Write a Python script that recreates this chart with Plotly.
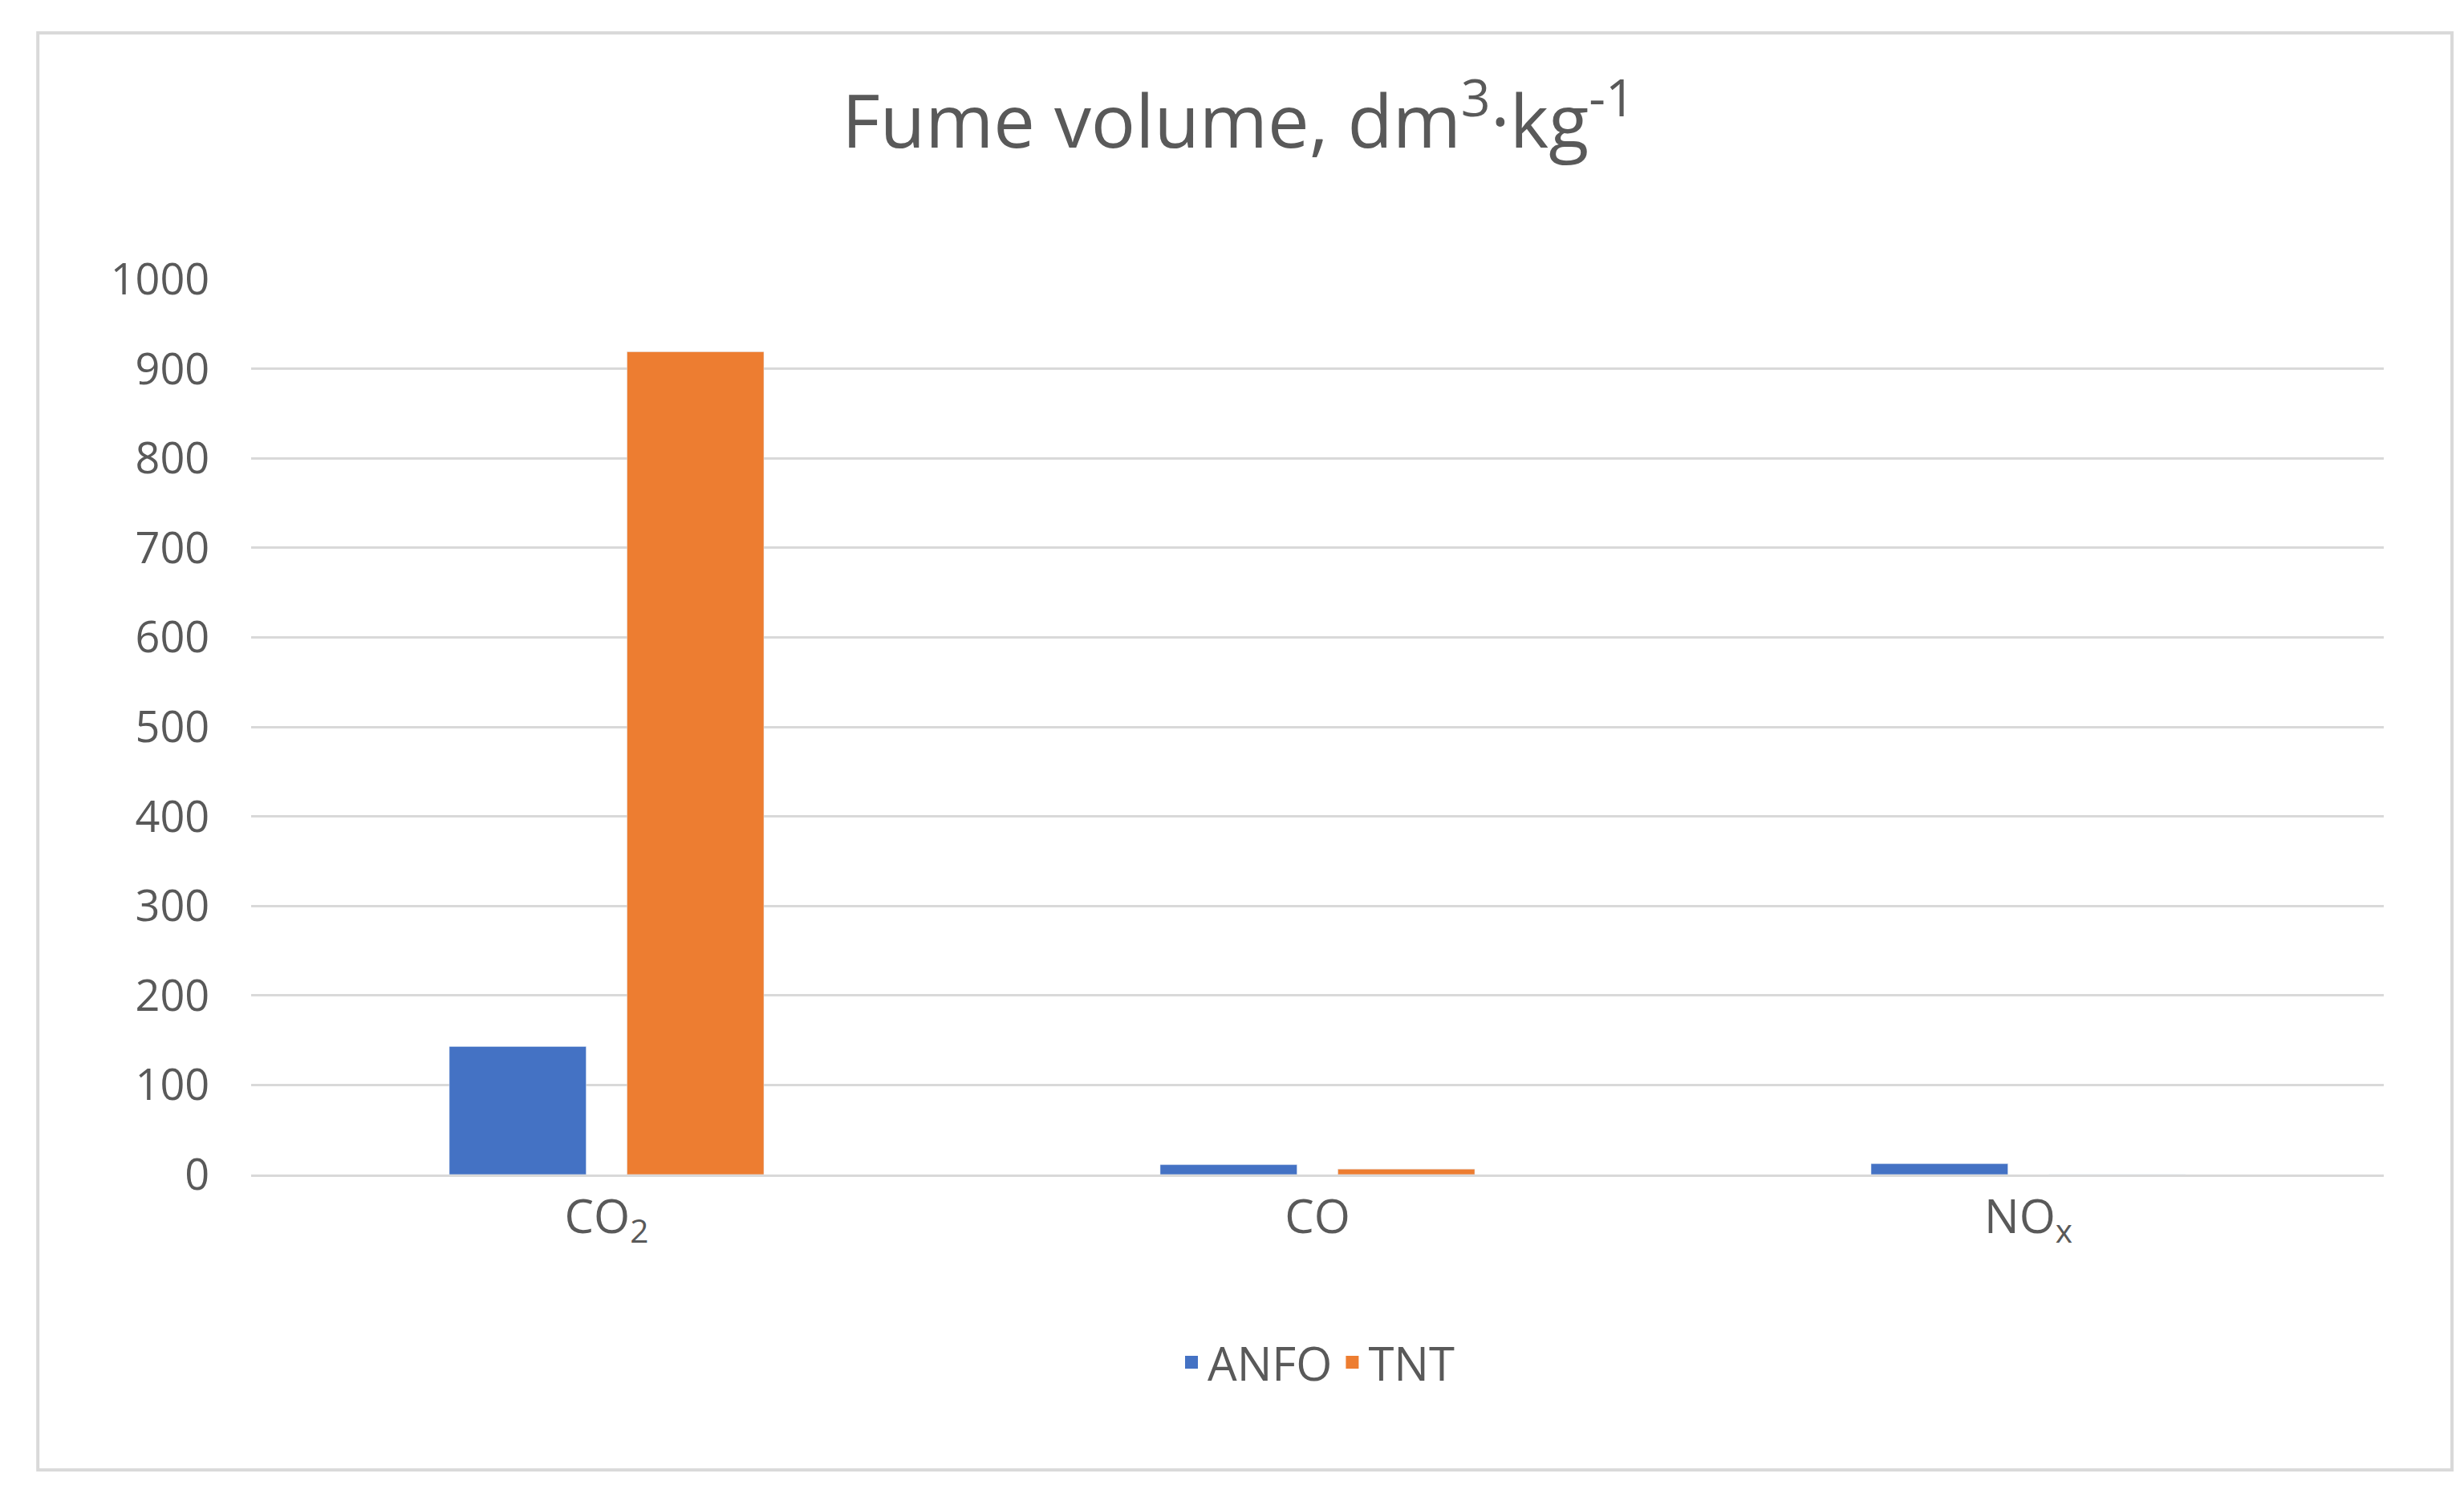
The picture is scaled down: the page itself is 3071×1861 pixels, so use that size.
import plotly.graph_objects as go

categories = ["CO<sub>2</sub>", "CO", "NO<sub>x</sub>"]
anfo = [143, 11, 12]
tnt = [919, 6, 0]
series = ["ANFO", "TNT"]
colors = ["#4472C4", "#ED7D31"]

W, H = 3071, 1861
fig = go.Figure()
for name, vals, c in zip(series, [anfo, tnt], colors):
    fig.add_bar(name=name, x=categories, y=vals, marker_color=c, showlegend=False)
for name, c in zip(series, colors):
    fig.add_scatter(name=name, x=[None], y=[None], mode="markers",
                    marker=dict(symbol="square", size=38, color=c))
fig.update_layout(
    width=W, height=H, plot_bgcolor="white", paper_bgcolor="white",
    font=dict(family="Open Sans", color="#595959", size=54),
    title=dict(text="Fume volume, dm<sup>3</sup>·kg<sup>-1</sup>", x=0.5, xanchor="center",
               y=0.94, yanchor="top", font=dict(size=92, color="#595959")),
    margin=dict(l=305, r=108, t=340, b=405),
    barmode="group", bargap=0.5, bargroupgap=0.23,
    legend=dict(orientation="h", x=0.5, xanchor="center", y=-0.17, yanchor="top",
                font=dict(size=58), itemwidth=30),
    xaxis=dict(showline=True, linecolor="#D9D9D9", linewidth=3, ticks="",
               tickfont=dict(size=58)),
    yaxis=dict(range=[0, 1000], dtick=100, gridcolor="#D9D9D9", gridwidth=3,
               zeroline=False, tickfont=dict(size=54), ticks="outside",
               ticklen=40, tickcolor="white"),
    shapes=[dict(type="rect", xref="paper", yref="paper", x0=-0.10, x1=1.032,
                 y0=-0.33, y1=1.275, line=dict(color="#D9D9D9", width=4))],
)
fig.write_html("out.html")
